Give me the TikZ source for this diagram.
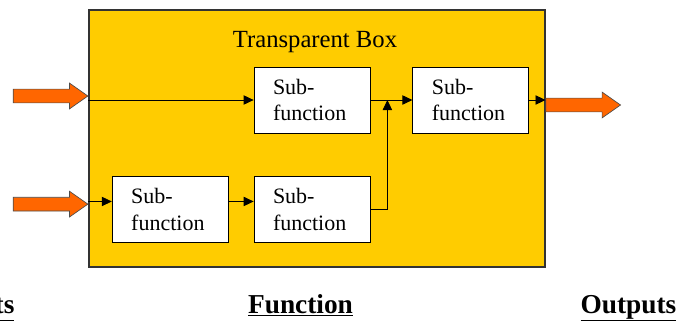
\documentclass[tikz,border=0pt]{standalone}
\usepackage{fontspec}
\setmainfont{Liberation Serif}
\usetikzlibrary{arrows.meta,positioning,shapes.arrows}
\definecolor{fnyellow}{HTML}{FFCC00}
\definecolor{fnorange}{HTML}{FF6600}

\begin{document}
\begin{tikzpicture}[
  x=0.75pt, y=-0.75pt,
  fnbox/.style={rectangle, draw=black!80, fill=fnyellow, line width=0.8pt,
                minimum width=342pt, minimum height=192.75pt},
  subfn/.style={rectangle, draw=black, fill=white, line width=0.6pt,
                minimum width=87pt, minimum height=49.5pt, text width=58.5pt,
                align=left, inner sep=0pt, font=\fontsize{16.5}{20}\selectfont},
  bigarr/.style={single arrow, draw=black!70, fill=fnorange, line width=0.5pt,
                 minimum height=56pt, minimum width=18.75pt, inner sep=4.9pt,
                 single arrow head extend=4.5pt, single arrow tip angle=70},
  flow/.style={-{Triangle[length=7.5pt,width=7pt]}, line width=0.6pt, draw=black},
  heading/.style={font=\bfseries\fontsize{20.5}{24}\selectfont, anchor=base},
  node distance=31.5pt
]
  \useasboundingbox (0,0) rectangle (681,322);
  \node[fnbox] (fbox) at (317,138.5) {};
  \node[anchor=base, font=\fontsize{18.5}{22}\selectfont] (title) at (315,47) {Transparent Box};
  \node[subfn] (subA) at (312,100)           {Sub-\\function};
  \node[subfn] (subB) [right=of subA]       {Sub-\\function};
  \node[subfn] (subD) [below=32pt of subA]  {Sub-\\function};
  \node[subfn] (subC) [left=18.75pt of subD] {Sub-\\function};
  % block arrows at the box edges
  \node[bigarr, anchor=tip]  (in1)  at ([yshift=3pt]fbox.west |- subA) {};
  \node[bigarr, anchor=tip]  (in2)  at ([yshift=4pt]fbox.west |- subC) {};
  \node[bigarr, anchor=tail] (out1) at ([yshift=-3.75pt]fbox.east |- subB) {};
  % inner flow
  \coordinate (join) at ([xshift=12.75pt]subA.east);
  \draw[flow] (fbox.west |- subA) -- (subA.west);
  \draw[flow] ([yshift=6pt]fbox.west |- subC) -- ([yshift=6pt]subC.west);
  \draw[flow] ([yshift=6pt]subC.east) -- ([yshift=6pt]subD.west);
  \draw[flow] (subA) -- (subB);
  \draw[flow] (subD.east) -| (join);
  \draw[flow] (subB) -- (fbox.east |- subB);
  % headings under the picture
  \node[heading] (hin)  at (-23.5,313) {\underline{Inputs}};
  \node[heading] (hfn)  at (300.5,313) {\underline{Function}};
  \node[heading] (hout) at (628.5,313) {\underline{Outputs}};
\end{tikzpicture}
\end{document}
